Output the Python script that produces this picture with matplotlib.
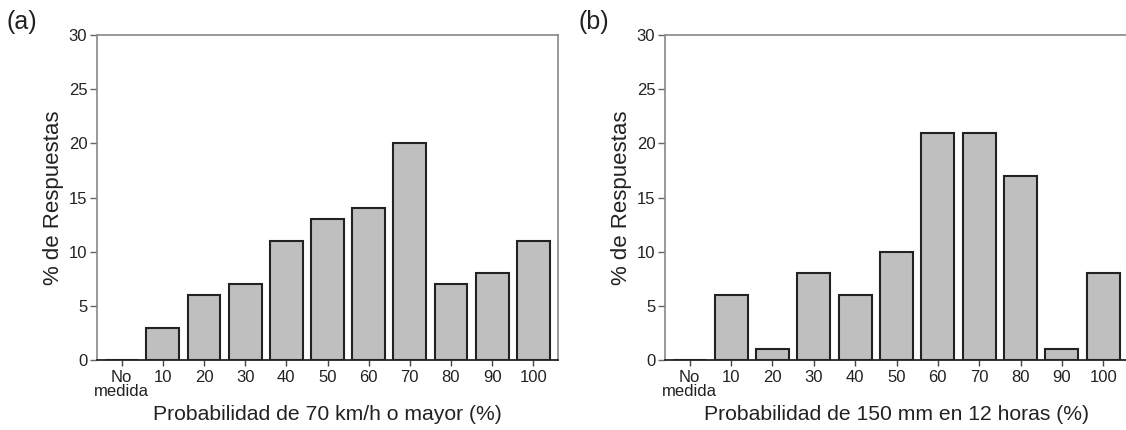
import matplotlib
matplotlib.use("Agg")
import matplotlib.pyplot as plt

plt.rcParams['font.family'] = ['Liberation Sans', 'DejaVu Sans']

categories = ["No\nmedida", "10", "20", "30", "40", "50", "60", "70", "80", "90", "100"]
values_a = [0, 3, 6, 7, 11, 13, 14, 20, 7, 8, 11]
values_b = [0, 6, 1, 8, 6, 10, 21, 21, 17, 1, 8]
xlabel_a = "Probabilidad de 70 km/h o mayor (%)"
xlabel_b = "Probabilidad de 150 mm en 12 horas (%)"
ylabel = "% de Respuestas"
yticks = [0, 5, 10, 15, 20, 25, 30]

fig = plt.figure(figsize=(11.26, 4.30), dpi=100)
W, H = 1126, 430

def make_axes(left_px, right_px):
    return fig.add_axes([left_px / W, 1 - 360 / H, (right_px - left_px) / W, (360 - 35) / H])

ax_a = make_axes(97, 558)
ax_b = make_axes(665, 1128)

for ax, vals, xl, tag, tagx, right in [
    (ax_a, values_a, xlabel_a, "(a)", 7, True),
    (ax_b, values_b, xlabel_b, "(b)", 578, False),
]:
    x = list(range(len(categories)))
    ax.bar(x, vals, width=0.8, color="#bfbfbf", edgecolor="#222222", linewidth=1.5, zorder=3)
    ax.set_xlim(-0.6, 10.6)
    ax.set_ylim(0, 30)
    ax.set_yticks(yticks)
    ax.set_xticks(x)
    ax.set_xticklabels(categories, fontsize=12, color="#222222", linespacing=0.95)
    ax.tick_params(axis="y", labelsize=12, labelcolor="#222222", color="#666666",
                   length=5, width=1, direction="out", pad=2)
    ax.tick_params(axis="x", color="#444444", length=4, width=1, direction="out", pad=3)
    for s in ["top", "left", "right"]:
        ax.spines[s].set_color("#888888")
        ax.spines[s].set_linewidth(1.2)
    ax.spines["right"].set_visible(right)
    ax.spines["bottom"].set_color("#333333")
    ax.spines["bottom"].set_linewidth(1.4)
    ax.set_xlabel(xl, fontsize=15.2, color="#222222", labelpad=4)
    ax.set_ylabel(ylabel, fontsize=16, color="#222222", labelpad=3)
    fig.text(tagx / W, 1 - 22 / H, tag, fontsize=18, color="#222222", va="center", ha="left")

fig.savefig("out.png", dpi=100)
